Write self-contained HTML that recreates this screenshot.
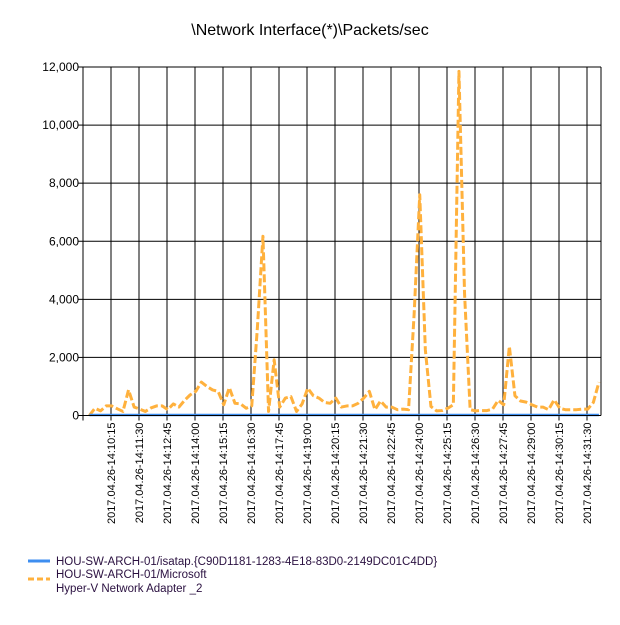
<!DOCTYPE html>
<html><head><meta charset="utf-8"><style>
body{margin:0;background:#fff;font-family:"Liberation Sans",sans-serif;}
svg text{font-family:"Liberation Sans",sans-serif;}
</style></head><body>
<svg id="chart" width="620" height="620">
<text x="310" y="35" text-anchor="middle" font-size="16" fill="#000">\Network Interface(*)\Packets/sec</text>
<g id="grid"></g><g id="series"></g><g id="axes"></g>
<g>
<line x1="28" y1="561" x2="50" y2="561" stroke="#3d8ef0" stroke-width="3"/>
<text x="56" y="565" font-size="11.5" fill="#2a1040">HOU-SW-ARCH-01/isatap.{C90D1181-1283-4E18-83D0-2149DC01C4DD}</text>
<line x1="28" y1="579" x2="50" y2="579" stroke="#ffb13d" stroke-width="3" stroke-dasharray="6,3"/>
<text x="56" y="578" font-size="11.5" fill="#2a1040">HOU-SW-ARCH-01/Microsoft</text>
<text x="56" y="592" font-size="11.5" fill="#2a1040">Hyper-V Network Adapter _2</text>
</g>
</svg>
<script>
const yTicks=[0,2000,4000,6000,8000,10000,12000];
const xTickLabels=["2017.04.26-14:10:15","2017.04.26-14:11:30","2017.04.26-14:12:45","2017.04.26-14:14:00","2017.04.26-14:15:15","2017.04.26-14:16:30","2017.04.26-14:17:45","2017.04.26-14:19:00","2017.04.26-14:20:15","2017.04.26-14:21:30","2017.04.26-14:22:45","2017.04.26-14:24:00","2017.04.26-14:25:15","2017.04.26-14:26:30","2017.04.26-14:27:45","2017.04.26-14:29:00","2017.04.26-14:30:15","2017.04.26-14:31:30"];
const hypervValues=[0,250,160,330,330,230,140,880,290,220,140,260,330,330,200,400,290,520,710,830,1150,1000,880,830,370,960,420,400,250,330,3000,6170,140,1920,290,600,650,140,400,940,680,600,450,420,600,290,330,330,420,600,830,200,500,290,290,200,220,200,3500,7600,2260,310,160,170,250,370,11850,4200,200,160,170,170,220,520,370,2380,680,500,460,370,290,290,200,540,250,200,200,200,220,220,450,1150];
const isatapValues=hypervValues.map(()=>0);
const NS='http://www.w3.org/2000/svg';
const L=83,R=601,T=67,B=415.5,yMax=12000;
const y=v=>B-(v/yMax)*(B-T);
const pxPerSec=28/75;
const x=i=>L+(17+15*i)*pxPerSec;
const tickX=k=>L+(k+1)*75*pxPerSec;
function mk(tag,attrs,parent){const e=document.createElementNS(NS,tag);for(const k in attrs)e.setAttribute(k,attrs[k]);parent.appendChild(e);return e;}
const grid=document.getElementById('grid'),axes=document.getElementById('axes'),series=document.getElementById('series');
yTicks.forEach(v=>{
 if(v>0){const g=mk('line',{x1:L,x2:R,y1:y(v),y2:y(v),stroke:'#000','stroke-width':1},grid);
 
 }
 const t=mk('text',{x:79,y:y(v)+4,'text-anchor':'end','font-size':12,fill:'#000'},axes);
 t.textContent=v.toLocaleString('en-US');
 
 
 mk('line',{x1:L-5,x2:L,y1:y(v),y2:y(v),stroke:'#000'},axes);
});
xTickLabels.forEach((lab,k)=>{
 const xx=tickX(k);
 const g=mk('line',{x1:xx,x2:xx,y1:T,y2:B+5,stroke:'#000','stroke-width':1},grid);
 
 
 const t=mk('text',{x:0,y:0,'text-anchor':'end','font-size':11,fill:'#000',transform:`translate(${xx+4},${B+7}) rotate(-90)`},axes);
 t.textContent=lab;
 
 
});
mk('line',{x1:R,x2:R,y1:T,y2:B,stroke:'#000'},grid);
mk('line',{x1:L,x2:R,y1:T,y2:T,stroke:'#000'},grid);
mk('line',{x1:L,x2:L,y1:T,y2:B+5,stroke:'#000'},axes);
mk('line',{x1:L-5,x2:R,y1:B,y2:B,stroke:'#000'},axes);
const hp=mk('polyline',{points:hypervValues.map((v,i)=>x(i)+','+y(v)).join(' '),fill:'none',stroke:'#ffb13d','stroke-width':3,'stroke-dasharray':'8,3','stroke-linejoin':'round'},series);


const ip=mk('polyline',{points:isatapValues.map((v,i)=>x(i)+','+(y(v)-0.5)).join(' '),fill:'none',stroke:'#3d8ef0','stroke-width':2.5},series);


</script>
</body></html>
